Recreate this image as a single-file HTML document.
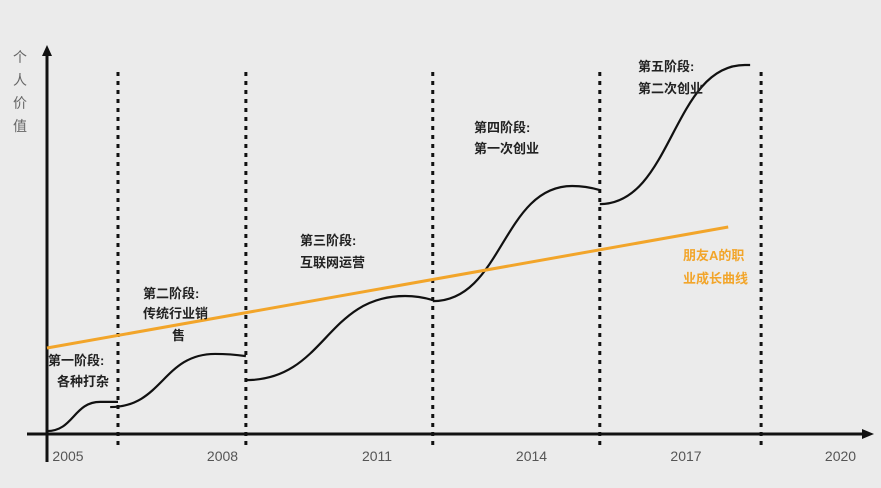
<!DOCTYPE html>
<html><head><meta charset="utf-8"><style>
html,body{margin:0;padding:0;background:#ebebeb;}
svg{display:block;}
text{font-family:"Liberation Sans","Noto Sans CJK SC",sans-serif;}
.lab{font-size:13px;font-weight:bold;fill:#222;}
.yr{font-size:14px;fill:#555;}
</style></head><body>
<svg id="chart" width="881" height="488" viewBox="0 0 881 488">
<rect width="881" height="488" fill="#ebebeb"/>
<g id="dividers"></g>
<line x1="27" y1="434" x2="866" y2="434" stroke="#111" stroke-width="3"/>
<polygon points="874,434 862,429 862,439" fill="#111"/>
<line x1="47" y1="52" x2="47" y2="462" stroke="#111" stroke-width="3"/>
<polygon points="47,45 42,56 52,56" fill="#111"/>
<g fill="#666" font-size="14">
<text x="20" y="62" text-anchor="middle">个</text>
<text x="20" y="85" text-anchor="middle">人</text>
<text x="20" y="108" text-anchor="middle">价</text>
<text x="20" y="131" text-anchor="middle">值</text>
</g>
<g id="ticks"></g>
<g id="curves"></g>
<g id="trend"></g>
<g>
<text class="lab" x="48" y="365" font-size="12">第一阶段:</text>
<text class="lab" x="57" y="386" font-size="12">各种打杂</text>
<text class="lab" x="143" y="298">第二阶段:</text>
<text class="lab" x="143" y="318">传统行业销</text>
<text class="lab" x="172" y="340">售</text>
<text class="lab" x="300" y="245">第三阶段:</text>
<text class="lab" x="300" y="267">互联网运营</text>
<text class="lab" x="474" y="132">第四阶段:</text>
<text class="lab" x="474" y="153">第一次创业</text>
<text class="lab" x="638" y="71">第五阶段:</text>
<text class="lab" x="638" y="93">第二次创业</text>
<text x="683" y="260" font-size="13" font-weight="bold" fill="#f2a52a">朋友A的职</text>
<text x="683" y="283" font-size="13" font-weight="bold" fill="#f2a52a">业成长曲线</text>
</g>
</svg>
<script>
const tickYears = [2005, 2008, 2011, 2014, 2017, 2020];
const dividerYears = [2006.36, 2008.81, 2012.39, 2015.59, 2018.68];
const segStart = [2005.0, 2006.21, 2008.81, 2012.39, 2015.59];
const segRiseEnd = [2006.02, 2008.22, 2011.86, 2015.06, 2018.37];
const segEnd = [2006.36, 2008.81, 2012.39, 2015.59, 2018.47];
const segV0 = [0.8, 7.3, 14.6, 36.0, 62.3];
const segV1 = [8.7, 21.7, 37.4, 67.2, 100];
const segVEnd = [8.7, 21.1, 36.3, 66.1, 100];
const trendYears = [2005, 2018.05];
const trendValues = [23.3, 56.1];

const NS = 'http://www.w3.org/2000/svg';
const x = y => 47 + (y - 2005) * 52.2;
const yv = v => 434 - v * 3.69;
const tickX = y => 68 + (y - 2005) * 51.5;
function mk(tag, attrs, parent){const e=document.createElementNS(NS,tag);for(const k in attrs)e.setAttribute(k,attrs[k]);parent.appendChild(e);return e;}

const dv = document.getElementById('dividers');
dividerYears.forEach(d=>{
  const l = mk('line',{x1:x(d),x2:x(d),y1:72,y2:446,stroke:'#111','stroke-width':3,'stroke-dasharray':'4,5'},dv);
  
  
});
const tk = document.getElementById('ticks');
tickYears.forEach(t=>{
  const e = mk('text',{x:tickX(t),y:461,'text-anchor':'middle',class:'yr'},tk);
  e.textContent = t;
  
  
});
const cv = document.getElementById('curves');
segStart.forEach((s,i)=>{
  const x0=x(s), xr=x(segRiseEnd[i]), x1=x(segEnd[i]);
  const y0=yv(segV0[i]), y1=yv(segV1[i]), y2=yv(segVEnd[i]);
  const m=(x0+xr)/2;
  const d=`M${x0},${y0} C${m},${y0} ${m},${y1} ${xr},${y1} Q${(xr+x1)/2},${y1} ${x1},${y2}`;
  const p = mk('path',{d:d,fill:'none',stroke:'#111','stroke-width':2.2},cv);
  
  
});
const tr = document.getElementById('trend');
const tl = mk('line',{x1:x(trendYears[0]),y1:yv(trendValues[0]),x2:x(trendYears[1]),y2:yv(trendValues[1]),stroke:'#f2a52a','stroke-width':3},tr);


</script>
</body></html>
